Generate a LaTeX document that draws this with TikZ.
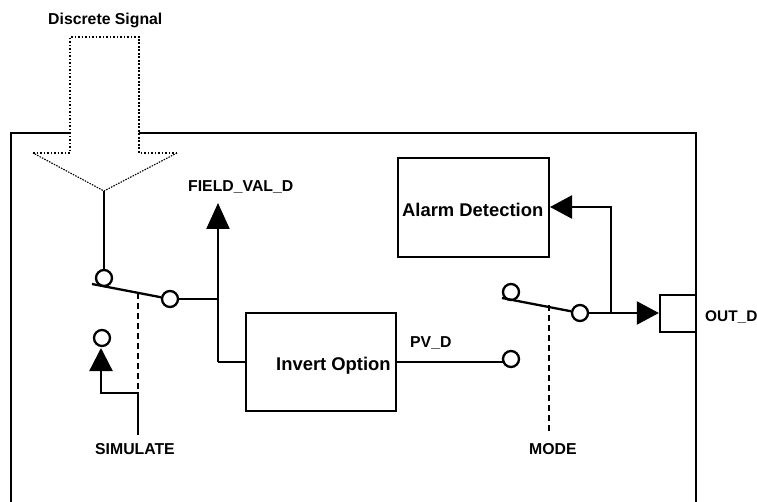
\documentclass[tikz,border=0pt]{standalone}
\usepackage{fontspec}
\setmainfont{Liberation Sans}
\usetikzlibrary{arrows.meta}
\tikzset{
  wire/.style={line width=2.3pt},
  dashwire/.style={line width=2.3pt,dash pattern=on 6pt off 4pt},
  arrowwire/.style={wire,-{Triangle[length=22pt,width=23pt]}},
  terminal/.style={circle,draw,fill=white,line width=2.3pt,minimum size=16pt,inner sep=0pt},
  blockbox/.style={draw,fill=white,line width=2.3pt,inner sep=0pt},
  lab/.style={font=\bfseries\fontsize{15.8}{18}\selectfont,inner sep=0pt,anchor=base west},
  blocklab/.style={font=\bfseries\fontsize{18.4}{20}\selectfont,inner sep=0pt,anchor=base west},
}
\begin{document}
\begin{tikzpicture}[x=1pt,y=-1pt]
\useasboundingbox (0,0) rectangle (757,502);
\clip (0,0) rectangle (757,502);
% outer frame (open at the bottom edge of the picture)
\draw[wire] (11,502) -- (11,133) -- (696,133) -- (696,502);
% discrete-signal arrow
\fill[white] (70,37) rectangle (139,153);
\fill[white] (33,153) -- (177,153) -- (104,191) -- cycle;
\draw[line width=1.9pt,dash pattern=on 1.9pt off 1.6pt] (33,153) -- (70,153) -- (70,37) -- (139,37) -- (139,153) -- (177,153);
\draw[line width=1.1pt,dash pattern=on 1.5pt off 1.2pt] (177,153) -- (104,191) -- (33,153);
\coordinate (apex) at (104,191);
% blocks
\node[blockbox,minimum width=151pt,minimum height=99pt] (alarm) at (473.5,207.5) {};
\node[blockbox,minimum width=150pt,minimum height=98pt] (invert) at (321,362) {};
\node[blockbox,minimum width=36pt,minimum height=37pt] (out) at (678,313.5) {};
% terminals
\node[terminal] (s1) at (104,278) {};
\node[terminal] (s2) at (170,299) {};
\node[terminal] (s3) at (102,338) {};
\node[terminal] (m1) at (511,292) {};
\node[terminal] (m2) at (511,359) {};
\node[terminal] (m3) at (580,313) {};
% free ends
\coordinate (swA) at (92,284);
\coordinate (simTop) at (138,293);
\coordinate (simMid) at (138,393);
\coordinate (simBot) at (138,435);
\coordinate (fieldTip) at (218,203);
\coordinate (fieldJ) at (218,299);
\coordinate (fieldL) at (218,362);
\coordinate (modeA) at (502,298);
\coordinate (modeTop) at (549,305);
\coordinate (modeBot) at (549,431);
\coordinate (outJ) at (611,313);
\coordinate (alarmIn) at (550,207);
\coordinate (simCorner) at (101,393);
\coordinate (simTip) at (101,348);
% left switch
\draw[wire] (apex) -- (s1);
\draw[wire] (swA) -- (s2);
\draw[dashwire] (simTop) -- (simMid);
\draw[wire,-{Triangle[length=23pt,width=23pt]}] (simBot) -- (simMid) -- (simCorner) -- (simTip);
\draw[wire] (s2) -- (fieldJ);
\draw[wire,-{Triangle[length=26pt,width=23pt]}] (fieldL) -- (fieldTip);
\draw[wire] (invert.west |- fieldL) -- (fieldL);
% right switch
\draw[wire] (invert.east |- fieldL) -- (m2.south west |- fieldL);
\draw[wire] (modeA) -- (m3);
\draw[dashwire] (modeTop) -- (modeBot);
\draw[arrowwire] (m3) -- (out.west |- m3);
\draw[arrowwire] (outJ) |- (alarmIn);
% labels
\node[lab] (tDS) at (48,25) {Discrete Signal};
\node[lab] (tFV) at (188,192) {FIELD\_VAL\_D};
\node[lab] (tPV) at (410,347) {PV\_D};
\node[lab] (tSI) at (95,454) {SIMULATE};
\node[lab] (tMO) at (529,454) {MODE};
\node[lab,font=\bfseries\fontsize{15.4}{18}\selectfont] (tOU) at (705,321) {OUT\_D};
\node[blocklab] (tAL) at (402,217) {Alarm Detection};
\node[blocklab] (tIN) at (276,370) {Invert Option};
\end{tikzpicture}
\end{document}
